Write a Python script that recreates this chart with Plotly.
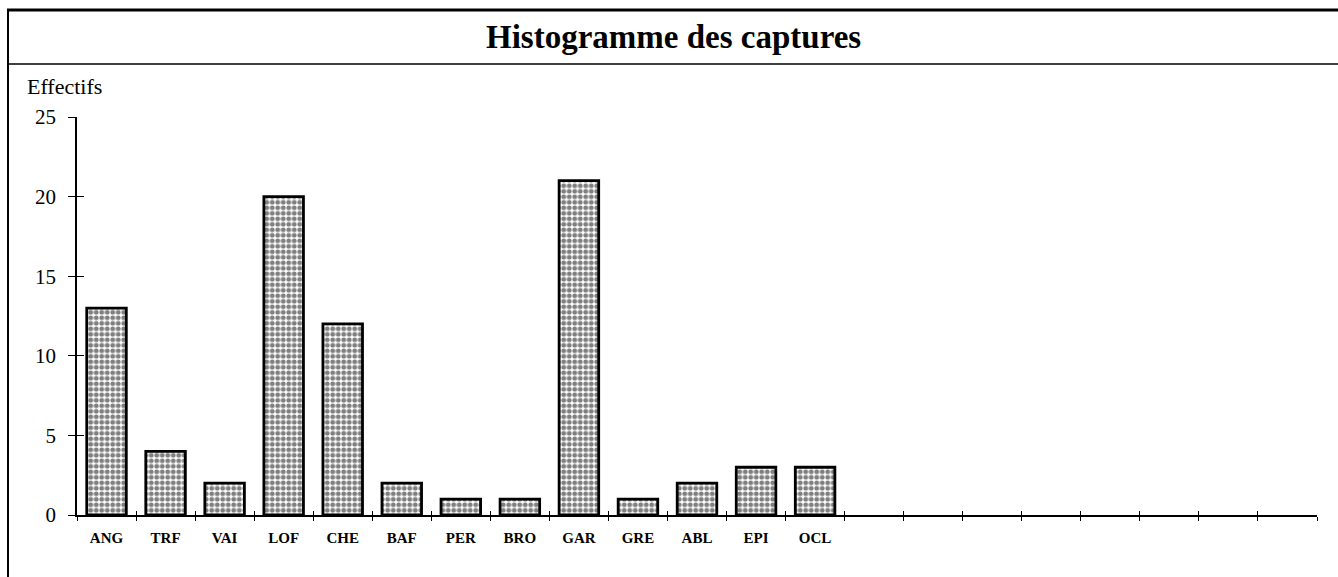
import plotly.graph_objects as go
import numpy as np

# ---- data ----
species = ["ANG", "TRF", "VAI", "LOF", "CHE", "BAF", "PER", "BRO", "GAR", "GRE", "ABL", "EPI", "OCL"]
counts = [13, 4, 2, 20, 12, 2, 1, 1, 21, 1, 2, 3, 3]
empty_slots = [" " * (i + 1) for i in range(8)]
y_ticks = [0, 5, 10, 15, 20, 25]
title_text = "Histogramme des captures"
y_title = "Effectifs"

all_cats = species + empty_slots
n_slots = len(all_cats)

W, H = 1338, 577
L, R, T, B = 77, 21, 117, 62
pw, ph = W - L - R, H - T - B


def px_x(p):
    return (p - L) / pw


def px_y(p):
    return (H - B - p) / ph


FONT = "Liberation Serif"

fig = go.Figure()
fig.add_trace(go.Bar(
    x=species, y=counts,
    marker=dict(
        color="white",
        line=dict(color="black", width=2.8),
        pattern=dict(shape=".", fgcolor="black", bgcolor="white", size=5.5, solidity=0.6),
    ),
    showlegend=False, hoverinfo="x+y",
))
# dummy trace to activate overlay axes (for crossing ticks)
fig.add_trace(go.Scatter(x=[None], y=[None], xaxis="x2", yaxis="y2", showlegend=False, hoverinfo="skip"))

fig.update_layout(
    width=W, height=H,
    margin=dict(l=L, r=R, t=T, b=B),
    paper_bgcolor="white", plot_bgcolor="white",
    bargap=0.33,
    font=dict(family=FONT, color="black"),
    xaxis=dict(
        type="category", categoryorder="array", categoryarray=all_cats,
        range=[-0.5, n_slots - 0.5],
        tickson="boundaries", ticks="outside", ticklen=4, tickwidth=1.2, tickcolor="black",
        showline=True, linecolor="black", linewidth=1.5,
        showgrid=False, zeroline=False,
        tickfont=dict(family=FONT, size=15, weight="bold"),
        ticklabelstandoff=8,
        fixedrange=True,
    ),
    yaxis=dict(
        range=[0, 25], tickvals=y_ticks,
        ticks="outside", ticklen=7, tickwidth=1.2, tickcolor="black",
        showline=True, linecolor="black", linewidth=1.5,
        showgrid=False, zeroline=False,
        tickfont=dict(family=FONT, size=21),
        ticklabelstandoff=8,
        fixedrange=True,
    ),
    xaxis2=dict(
        overlaying="x", anchor="y2", range=[-0.5, n_slots - 0.5],
        tickvals=list(np.arange(n_slots + 1) - 0.5),
        ticks="inside", ticklen=4, tickwidth=1.2, tickcolor="black",
        showticklabels=False, showgrid=False, zeroline=False, showline=False,
    ),
    yaxis2=dict(
        overlaying="y", anchor="x2", range=[0, 25], tickvals=y_ticks,
        ticks="inside", ticklen=7, tickwidth=1.2, tickcolor="black",
        showticklabels=False, showgrid=False, zeroline=False, showline=False,
    ),
)

# title and y label
fig.add_annotation(
    text=title_text, xref="paper", yref="paper",
    x=px_x(673), y=px_y(37), xanchor="center", yanchor="middle",
    showarrow=False, font=dict(family=FONT, size=33, weight="bold"),
)
fig.add_annotation(
    text=y_title, xref="paper", yref="paper",
    x=px_x(25), y=px_y(86), xanchor="left", yanchor="middle",
    showarrow=False, font=dict(family=FONT, size=22),
)

# frame lines around the chart
fig.add_shape(type="line", xref="paper", yref="paper",
              x0=px_x(7), x1=px_x(W), y0=px_y(10), y1=px_y(10), line=dict(color="black", width=3))
fig.add_shape(type="line", xref="paper", yref="paper",
              x0=px_x(7), x1=px_x(W), y0=px_y(64), y1=px_y(64), line=dict(color="black", width=1.5))
fig.add_shape(type="line", xref="paper", yref="paper",
              x0=px_x(8), x1=px_x(8), y0=px_y(10), y1=px_y(H), line=dict(color="black", width=2))

fig.write_html(
    "out.html",
    config={"displayModeBar": False},
    post_script="document.body.style.margin='0px';document.body.style.overflow='hidden';",
)
